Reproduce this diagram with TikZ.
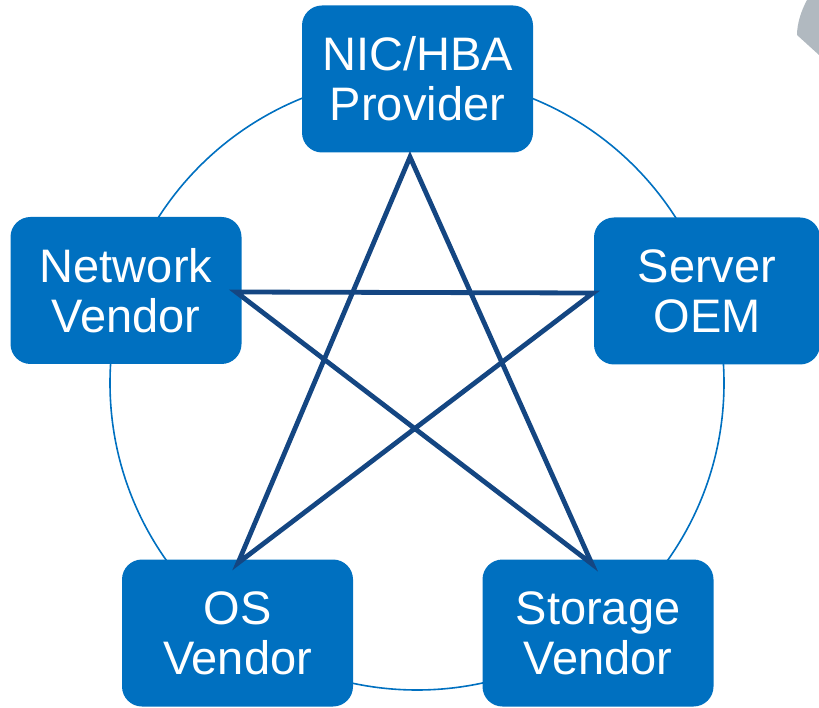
\documentclass[tikz,border=0pt]{standalone}
\usepackage{fontspec}
\setmainfont{Liberation Sans}
\usepackage{xcolor}
\definecolor{boxblue}{RGB}{0,112,192}
\definecolor{stardark}{RGB}{20,70,130}
\definecolor{greypie}{RGB}{177,185,192}

\begin{document}
\begin{tikzpicture}[x=1pt, y=-1pt,
  every node/.style={rectangle, rounded corners=20pt, fill=boxblue, text=white,
    minimum width=231pt, minimum height=147pt, align=center,
    font=\fontsize{47}{50}\selectfont}]
\useasboundingbox (0,0) rectangle (819,708);
% Grey piece in the corner
\fill[greypie] (807,0) .. controls (801,11) and (797,24) .. (797,35) -- (819,55) -- (819,0) -- cycle;
% Ring behind the boxes
\draw[boxblue, line width=1.6pt] (417,383) circle (307);
% Boxes
\node (nic) at (417.5,79) {NIC/HBA\\Provider};
\node (net) at (126,290.5) {Network\\Vendor};
\node[minimum width=226pt] (srv) at (707,291) {Server\\OEM};
\node (os) at (237.5,633) {OS\\Vendor};
\node (sto) at (598,633) {Storage\\Vendor};
% Star points
\coordinate (pT) at (410,157);
\coordinate (pL) at (236,292);
\coordinate (pR) at (593,293);
\coordinate (pBL) at (238,563);
\coordinate (pBR) at (592,564);
\draw[stardark, line width=4.8pt] (pT) -- (pBL) -- (pR) -- (pL) -- (pBR) -- cycle;
\end{tikzpicture}
\end{document}
